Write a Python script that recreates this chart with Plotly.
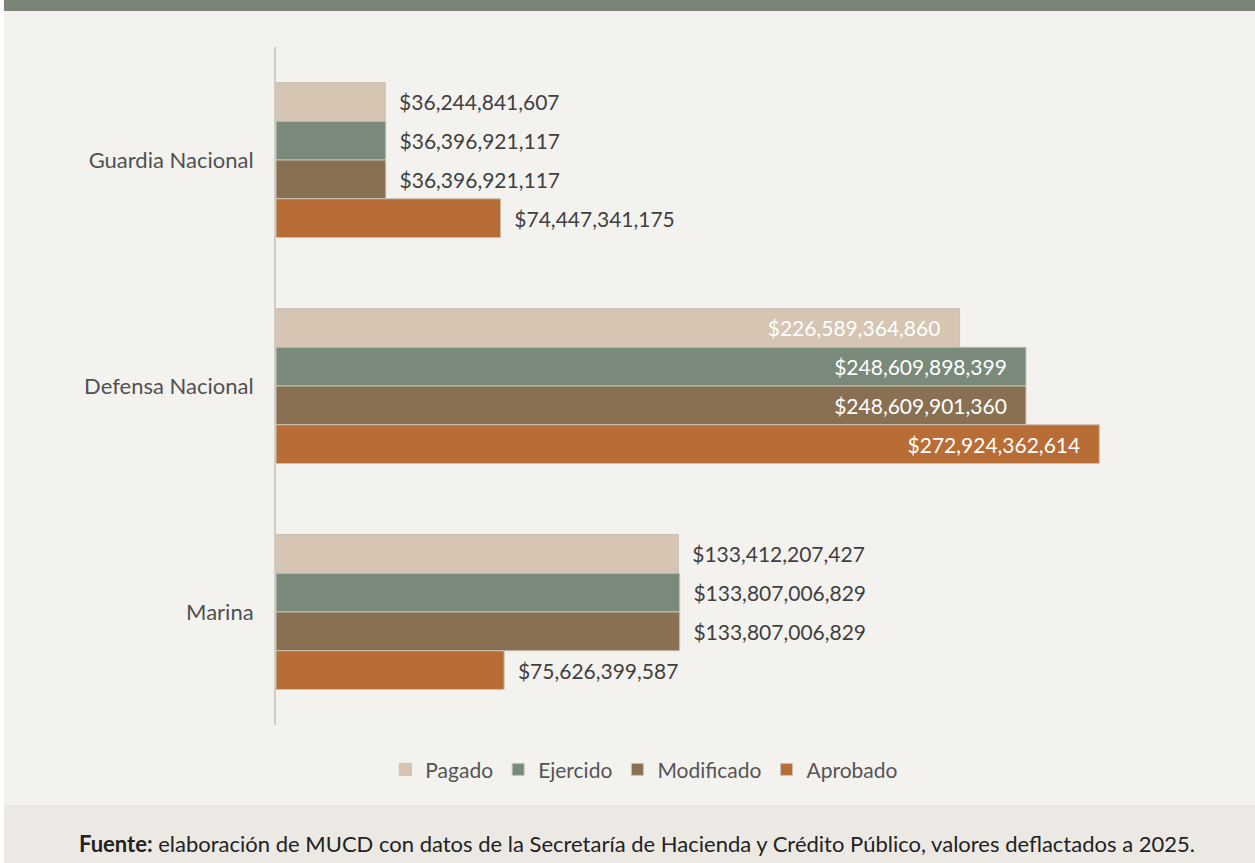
import plotly.graph_objects as go

categories = ["Guardia Nacional", "Defensa Nacional", "Marina"]
series_names = ["Pagado", "Ejercido", "Modificado", "Aprobado"]
pagado = [36244841607, 226589364860, 133412207427]
ejercido = [36396921117, 248609898399, 133807006829]
modificado = [36396921117, 248609901360, 133807006829]
aprobado = [74447341175, 272924362614, 75626399587]
colors = ["#d5c5b2", "#798a7b", "#8a7052", "#b96d36"]

values = [pagado, ejercido, modificado, aprobado]
FONT = "Lato"

fig = go.Figure()
for name, vals, col in zip(series_names, values, colors):
    pos = ["inside" if c == "Defensa Nacional" else "outside" for c in categories]
    tmpl = ["%{x:$,.0f}\u00a0\u00a0\u00a0" if p == "inside" else "\u00a0\u00a0%{x:$,.0f}" for p in pos]
    fig.add_trace(go.Bar(
        name=name, x=vals, y=categories, orientation="h",
        marker=dict(color=col, line=dict(color="#c9c2b6", width=1)),
        texttemplate=tmpl, textposition=pos, insidetextanchor="end",
        constraintext="none",
        insidetextfont=dict(family=FONT, size=21, color="#ffffff"),
        outsidetextfont=dict(family=FONT, size=21, color="#404040"),
        cliponaxis=False,
    ))

fig.update_layout(
    width=1255, height=863,
    margin=dict(l=276, r=74, t=47, b=138),
    paper_bgcolor="#f4f2ee", plot_bgcolor="#f4f2ee",
    barmode="group", bargap=0.314, bargroupgap=0,
    font=dict(family=FONT, color="#4a4a4a"),
    showlegend=True,
    legend=dict(orientation="h", x=0.407, xanchor="center", y=-0.066, yanchor="middle",
                font=dict(family=FONT, size=21, color="#555555"), traceorder="normal",
                itemwidth=30, bgcolor="rgba(0,0,0,0)"),
    xaxis=dict(range=[0, 300e9], visible=False, showgrid=False, zeroline=False),
    yaxis=dict(autorange="reversed", showline=True, linecolor="#cfcbc5", linewidth=2,
               ticks="", showgrid=False, ticklabelstandoff=16,
               tickfont=dict(family=FONT, size=22, color="#505050")),
    shapes=[
        dict(type="rect", xref="paper", yref="paper", x0=-0.3006, x1=1.09, y0=1.0531, y1=1.08,
             fillcolor="#7a8578", line=dict(width=0), layer="above"),
        dict(type="rect", xref="paper", yref="paper", x0=-0.3006, x1=1.09, y0=-0.2100, y1=-0.118,
             fillcolor="#ece9e4", line=dict(width=0), layer="below"),
        dict(type="rect", xref="paper", yref="paper", x0=-0.31, x1=-0.3006, y0=-0.25, y1=1.1,
             fillcolor="#ffffff", line=dict(width=0), layer="below"),
    ],
    annotations=[
        dict(xref="paper", yref="paper", x=0.399, y=-0.175, xanchor="center", yanchor="middle",
             showarrow=False,
             text="<b>Fuente:</b> elaboración de MUCD con datos de la Secretaría de Hacienda y Crédito Público, valores deflactados a 2025.",
             font=dict(family=FONT, size=22, color="#222222")),
    ],
)

fig.write_html("out.html", config={"displayModeBar": False},
               post_script="document.body.style.margin='0';")
